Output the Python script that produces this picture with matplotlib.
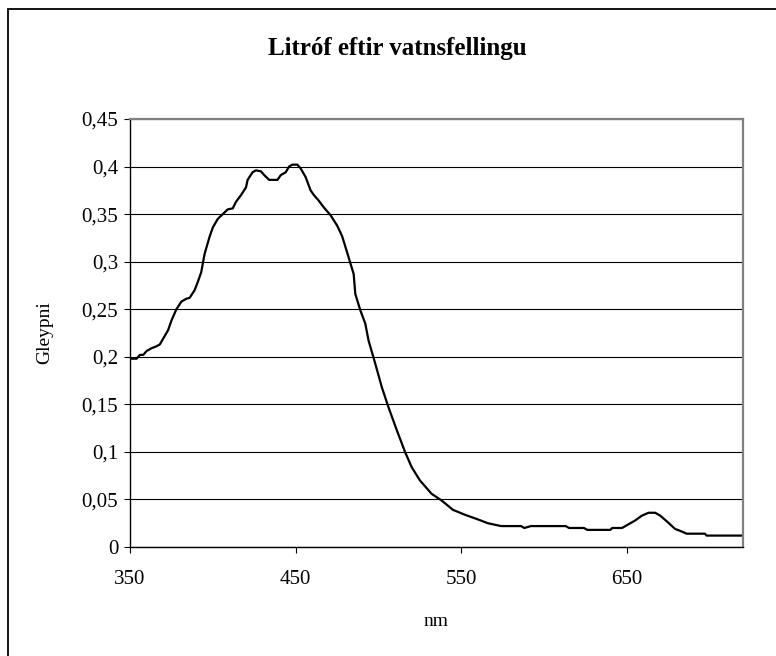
import matplotlib
matplotlib.use("Agg")
import matplotlib.pyplot as plt
from matplotlib.patches import Rectangle
from matplotlib.ticker import FuncFormatter

# wavelength (nm) and absorbance
nm = [351, 354, 356, 358, 360, 363, 366, 368, 370, 373, 375, 378, 381, 384,
      386, 389, 391, 393, 395, 398, 400, 403, 406, 409, 412, 414, 417, 420,
      421, 424, 426, 429, 431, 434, 439, 441, 444, 446, 448, 451, 453, 456,
      459, 461, 464, 467, 471, 475, 478, 481, 485, 486, 489, 492, 494, 498,
      502, 506, 511, 516, 520, 525, 532, 538, 545, 552, 560, 566, 574, 586,
      588, 592, 613, 615, 624, 626, 640, 641, 647, 651, 655, 659, 663, 667,
      670, 674, 679, 682, 686, 697, 698, 720]
gleypni = [0.198, 0.198, 0.202, 0.202, 0.206, 0.209, 0.211, 0.213, 0.219,
           0.228, 0.238, 0.250, 0.258, 0.261, 0.262, 0.270, 0.279, 0.289,
           0.308, 0.326, 0.336, 0.345, 0.350, 0.355, 0.356, 0.363, 0.370,
           0.378, 0.386, 0.394, 0.396, 0.395, 0.391, 0.386, 0.386, 0.391,
           0.394, 0.400, 0.402, 0.402, 0.398, 0.389, 0.375, 0.370, 0.364,
           0.357, 0.349, 0.338, 0.327, 0.310, 0.287, 0.266, 0.249, 0.235,
           0.217, 0.193, 0.168, 0.147, 0.123, 0.100, 0.084, 0.070, 0.056,
           0.049, 0.039, 0.034, 0.029, 0.025, 0.022, 0.022, 0.020, 0.022,
           0.022, 0.020, 0.020, 0.018, 0.018, 0.020, 0.020, 0.024, 0.028,
           0.033, 0.036, 0.036, 0.033, 0.027, 0.019, 0.017, 0.014, 0.014,
           0.012, 0.012]

title = "Litróf eftir vatnsfellingu"
xticks = [350, 450, 550, 650]
yticks = [0, 0.05, 0.1, 0.15, 0.2, 0.25, 0.3, 0.35, 0.4, 0.45]

plt.rcParams['font.family'] = ['Liberation Serif', 'DejaVu Serif']

W, H = 776, 656
fig = plt.figure(figsize=(W / 100, H / 100), dpi=100)
ax = fig.add_axes([130 / W, 1 - 547 / H, (743 - 130) / W, (547 - 119) / H])

# outer chart border (right and bottom edges fall outside the picture)
fig.patches.append(Rectangle((8 / W, -0.1), 1.2, 1.1 - 9 / H, transform=fig.transFigure,
                             fill=False, edgecolor='black', linewidth=1.3, clip_on=False))

ax.plot(nm, gleypni, color='black', linewidth=1.6)

ax.set_xlim(350, 720)
ax.set_ylim(0, 0.45)
ax.set_xticks(xticks)
ax.set_yticks(yticks)
ax.yaxis.set_major_formatter(FuncFormatter(lambda v, p: ('%g' % round(v, 2)).replace('.', ',')))
ax.grid(axis='y', color='black', linewidth=0.8)
ax.set_axisbelow(True)

for s in ['top', 'right']:
    ax.spines[s].set_color('#808080')
    ax.spines[s].set_linewidth(1.6)
for s in ['left', 'bottom']:
    ax.spines[s].set_color('black')
    ax.spines[s].set_linewidth(1.0)

ax.tick_params(direction='out', length=4.5, width=0.8, labelsize=15)
ax.tick_params(axis='y', pad=4)
ax.tick_params(axis='x', pad=12)

ax.set_ylabel("Gleypni", fontsize=14, labelpad=20)
ax.set_xlabel("nm", fontsize=14, labelpad=17)
fig.text(397 / W, 1 - 48 / H, title, ha='center', va='center', fontsize=18, fontweight='bold')

fig.savefig("out.png", dpi=100, facecolor='white')
